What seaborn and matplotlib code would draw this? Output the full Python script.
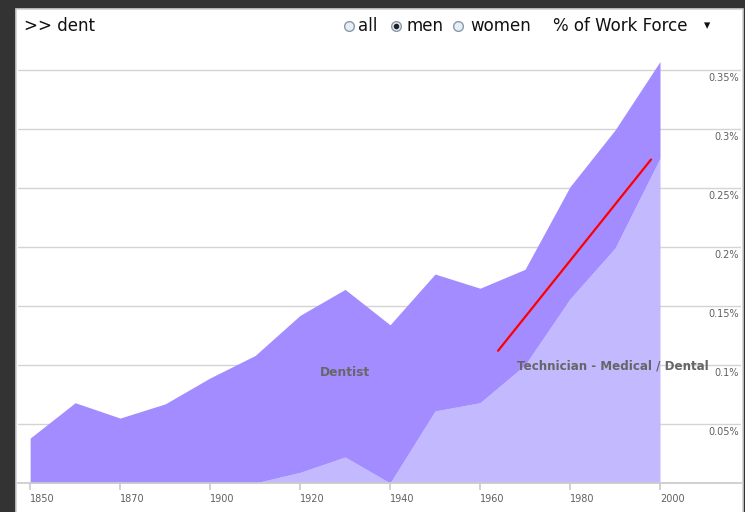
import numpy as np
import matplotlib
matplotlib.use("Agg")
import matplotlib.pyplot as plt
from matplotlib.patches import Rectangle
from matplotlib.lines import Line2D
from matplotlib.transforms import blended_transform_factory
import seaborn as sns

# census years (1890 missing) and shares of the male work force, in %
years = [1850, 1860, 1870, 1880, 1900, 1910, 1920, 1930, 1940, 1950,
         1960, 1970, 1980, 1990, 2000]
technician = [0, 0, 0, 0, 0, 0, 0.009, 0.022, 0, 0.061,
              0.068, 0.100, 0.156, 0.199, 0.275]
dentist = [0.038, 0.068, 0.055, 0.067, 0.089, 0.108, 0.133, 0.142, 0.134, 0.116,
           0.097, 0.081, 0.095, 0.100, 0.082]
x_tick_labels = ["1850", "1870", "1900", "1920", "1940", "1960", "1980", "2000"]
y_ticks = [0.05, 0.1, 0.15, 0.2, 0.25, 0.3, 0.35]
y_tick_labels = ["0.05%", "0.1%", "0.15%", "0.2%", "0.25%", "0.3%", "0.35%"]
# red hover line (position in decade index, value)
red_x = [10.4, 13.8]
red_y = [0.112, 0.274]

sns.set_theme(style="white")
plt.rcParams["font.family"] = ["DejaVu Sans"]

fig = plt.figure(figsize=(7.45, 5.12), dpi=100, facecolor="#333333")
# white panel behind everything
fig.patches.append(Rectangle((16 / 745, -0.01), 727 / 745, 503 / 512 + 0.01,
                             transform=fig.transFigure, facecolor="white",
                             edgecolor="#d0d0d0", lw=1.2, zorder=-10))

ax = fig.add_axes([18 / 745, 29 / 512, 723 / 745, 438 / 512])
ax.set_facecolor("none")

idx = np.arange(len(years))
tech = np.array(technician)
total = tech + np.array(dentist)

ax.fill_between(idx, 0, tech, color="#c3b9ff", lw=0, zorder=2)
ax.fill_between(idx, tech, total, color="#a38cff", lw=0, zorder=2)
sns.lineplot(x=red_x, y=red_y, color="red", lw=1.6, ax=ax, zorder=3)

ax.set_xlim(-0.27, 15.8)
ax.set_ylim(0, 0.371)

for v in y_ticks:
    ax.axhline(v, color="#d4d4d4", lw=1, zorder=1)
ytr = blended_transform_factory(ax.transAxes, ax.transData)
for v, lab in zip(y_ticks, y_tick_labels):
    ax.text(0.997, v - 0.0025, lab, transform=ytr, ha="right", va="top",
            fontsize=7, color="#606060")

ax.set_xticks(idx[::2])
ax.set_xticklabels(x_tick_labels, fontsize=7, color="#606060", ha="left")
ax.tick_params(axis="x", direction="out", length=5, color="#cccccc", bottom=True, pad=3)
ax.set_yticks([])

for s in ["top", "right", "left"]:
    ax.spines[s].set_visible(False)
ax.spines["bottom"].set_color("#cccccc")

ax.text(7, 0.094, "Dentist", ha="center", va="center", fontsize=8.8,
        fontweight="bold", color="#666666", zorder=4)
ax.text(12.95, 0.099, "Technician - Medical / Dental", ha="center", va="center",
        fontsize=8.6, fontweight="bold", color="#666666", zorder=4)

# header
hy = 1 - 26 / 512
fig.text(24 / 745, hy, ">> dent", fontsize=12, color="#111111", va="center")
for px, filled in [(349, False), (396, True), (458, False)]:
    fig.add_artist(Line2D([px / 745], [hy], marker="o", markersize=7,
                          markerfacecolor="#e8eef5", markeredgecolor="#8899aa",
                          transform=fig.transFigure))
    if filled:
        fig.add_artist(Line2D([px / 745], [hy], marker="o", markersize=3,
                              color="#222222", transform=fig.transFigure))
for px, lab in [(358, "all"), (406, "men"), (470, "women")]:
    fig.text(px / 745, hy, lab, fontsize=12, color="#111111", va="center")
fig.text(553 / 745, hy, "% of Work Force", fontsize=12, color="#111111", va="center")
fig.text(704 / 745, hy, "▾", fontsize=9, color="#111111", va="center")

plt.savefig("out.png", dpi=100, facecolor=fig.get_facecolor())
